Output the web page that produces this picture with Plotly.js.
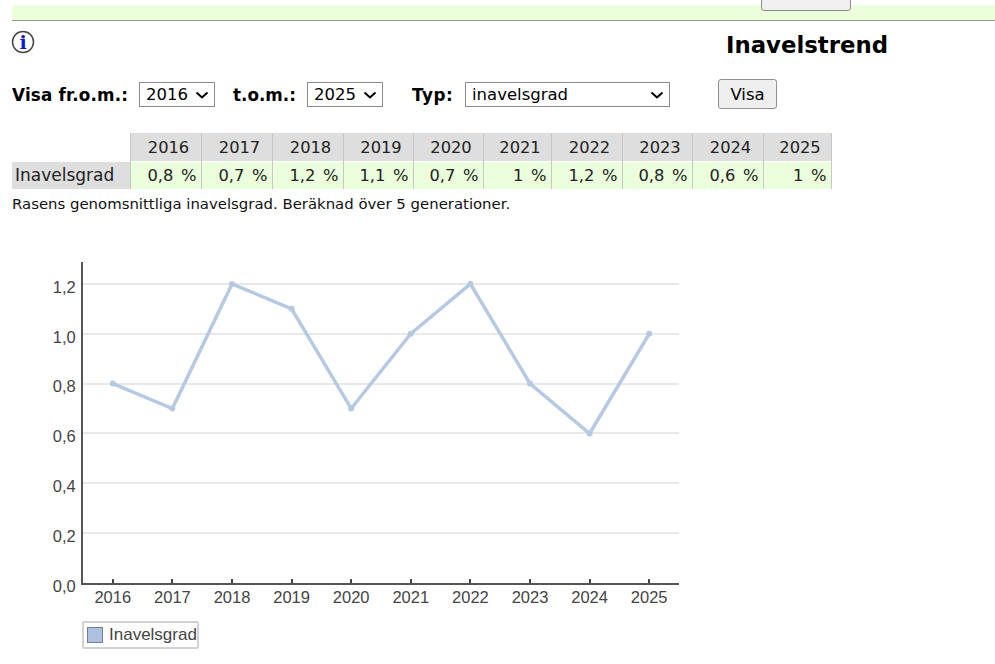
<!DOCTYPE html>
<html>
<head>
<meta charset="utf-8">
<script src="https://cdn.plot.ly/plotly-3.0.1.min.js"></script>
<style>
html,body{margin:0;padding:0;background:#fff;width:995px;height:664px;overflow:hidden;font-family:"DejaVu Sans",sans-serif;color:#000}
.a{position:absolute;white-space:nowrap}
#band{left:12px;top:5px;width:983px;height:15px;background:#ebffdc;border-bottom:1px solid #999}
#topbtn{left:761px;top:-2px;width:88px;height:11px;background:#f0f0f0;border:1px solid #8a8a8a;border-radius:3px}
.lab{font-weight:bold;font-size:16.8px;line-height:20px}
select,button{font-family:"DejaVu Sans",sans-serif;font-size:16.5px;color:#000;box-sizing:border-box}
select{height:25px;border:1px solid #8a8a8a;border-radius:0;padding:0 0 0 6px;appearance:none;-webkit-appearance:none;
 background:#fff url("data:image/svg+xml;utf8,<svg xmlns='http://www.w3.org/2000/svg' width='14' height='8'><path d='M1.5 1.5 L7 6.5 L12.5 1.5' fill='none' stroke='black' stroke-width='2'/></svg>") no-repeat right 5px center}
button{height:30px;width:59px;background:#efefef;border:1px solid #8f8f8f;border-radius:3px;padding:0}
#tbl{left:12px;top:133px;border-collapse:collapse;table-layout:fixed;font-size:16.3px}
#tbl td,#tbl th{padding:0;height:28px;font-weight:normal;box-sizing:border-box;color:#222}
#tbl th.y{background:#dedede;text-align:center;border-left:1px solid #c6c6c6;border-right:1px solid #c6c6c6;padding-left:6px;padding-top:2px}
#tbl td.v{background:#ebffdc;text-align:right;padding-right:4px;word-spacing:2.5px;border-left:1px solid #c6c6c6;border-right:1px solid #c6c6c6;border-top:1px solid #fff}
#tbl td.n{background:#dedede;text-align:left;padding-left:3px;border-top:1px solid #fff;font-size:17px}
#chart{left:0;top:0;width:995px;height:664px}
#legend{left:82px;top:621px;width:117px;height:28px;box-sizing:border-box;border:2px solid #d2d2d2;border-radius:2px;background:#fff;font-family:"Liberation Sans",sans-serif;font-size:17px;color:#444;line-height:24px}
#legend i{position:absolute;left:3px;top:4px;width:16px;height:16px;box-sizing:border-box;background:#adc1de;border:1.5px solid #6f7f95}
#legend span{position:absolute;left:25px;top:0}
</style>
</head>
<body>
<div id="chart" class="a"></div>
<div id="band" class="a"></div>
<div id="topbtn" class="a"></div>
<svg class="a" style="left:11px;top:30px" width="24" height="24" viewBox="0 0 24 24">
<circle cx="12" cy="12" r="10.5" fill="#fff" stroke="#444" stroke-width="1.5"/>
<text x="12" y="18.5" text-anchor="middle" font-family="DejaVu Serif" font-weight="bold" font-size="19" fill="#1414e0">i</text>
</svg>
<div class="a" style="left:726px;top:32px;font-size:22.8px;font-weight:bold" id="ttl"></div>
<div class="a lab" style="left:12px;top:85px;letter-spacing:.2px">Visa fr.o.m.:</div>
<select class="a" style="left:139px;top:82px;width:76px" id="s1"></select>
<div class="a lab" style="left:233px;top:85px">t.o.m.:</div>
<select class="a" style="left:307px;top:82px;width:76px" id="s2"></select>
<div class="a lab" style="left:412px;top:85px;letter-spacing:.5px">Typ:</div>
<select class="a" style="left:465px;top:82px;width:205px" id="s3"></select>
<button class="a" style="left:718px;top:79px">Visa</button>
<table class="a" id="tbl"></table>
<div class="a" style="left:12px;top:195px;font-size:14.9px;color:#111" id="note"></div>
<div class="a" id="legend"><i></i><span id="legtxt"></span></div>
<script>
var title = "Inavelstrend";
var seriesName = "Inavelsgrad";
var typeLabel = "inavelsgrad";
var note = "Rasens genomsnittliga inavelsgrad. Beräknad över 5 generationer.";
var years = ["2016","2017","2018","2019","2020","2021","2022","2023","2024","2025"];
var values = [0.8,0.7,1.2,1.1,0.7,1,1.2,0.8,0.6,1];
var tableCells = ["0,8 %","0,7 %","1,2 %","1,1 %","0,7 %","1 %","1,2 %","0,8 %","0,6 %","1 %"];
var colWidths = [118,71,71,71,70,70,68,71,70,71,68];
var tickVals = [0,0.2,0.4,0.6,0.8,1.0,1.2];
var tickText = ["0,0","0,2","0,4","0,6","0,8","1,0","1,2"];

document.getElementById("ttl").textContent = title;
document.getElementById("note").textContent = note;
document.getElementById("legtxt").textContent = seriesName;
function opt(id, t){var o=document.createElement("option");o.textContent=t;document.getElementById(id).appendChild(o);}
opt("s1",years[0]);opt("s2",years[years.length-1]);opt("s3",typeLabel);

var t = document.getElementById("tbl");
var html = "<colgroup>"+colWidths.map(function(w){return '<col style="width:'+w+'px">';}).join("")+"</colgroup>";
html += '<tr><th></th>'+years.map(function(y){return '<th class="y">'+y+'</th>';}).join("")+'</tr>';
html += '<tr><td class="n">'+seriesName+'</td>'+tableCells.map(function(c){return '<td class="v">'+c+'</td>';}).join("")+'</tr>';
t.innerHTML = html;
t.style.width = colWidths.reduce(function(a,b){return a+b;},0)+"px";

var fill = "#b6c9e2";
Plotly.newPlot("chart",[
 {x:years,y:values,type:"scatter",mode:"lines+markers",name:seriesName,showlegend:false,hoverinfo:"x+y",
  line:{color:fill,width:3.5},marker:{color:fill,size:6}}
],{
 width:995,height:664,
 margin:{l:83,r:316,t:262,b:81,pad:0},
 paper_bgcolor:"rgba(0,0,0,0)",plot_bgcolor:"rgba(0,0,0,0)",
 font:{family:"Liberation Sans",size:16.5,color:"#444"},
 xaxis:{type:"category",categoryorder:"array",categoryarray:years,range:[-0.5,9.5],fixedrange:true,
  showgrid:false,zeroline:false,showline:true,linecolor:"#555",linewidth:2,
  ticks:"inside",ticklen:4,tickwidth:1.5,tickcolor:"#444",ticklabelstandoff:-2,tickfont:{family:"Liberation Sans",size:16.5,color:"#444"}},
 yaxis:{range:[0,1.288],fixedrange:true,tickmode:"array",tickvals:tickVals,ticktext:tickText,
  showgrid:true,gridcolor:"#e8e8e8",gridwidth:2,zeroline:false,showline:true,linecolor:"#555",linewidth:2,
  ticks:"",ticklabelstandoff:2,ticklabelshift:3,tickfont:{family:"Liberation Sans",size:16.5,color:"#444"}},
 showlegend:false
},{displayModeBar:false});
</script>
</body>
</html>
